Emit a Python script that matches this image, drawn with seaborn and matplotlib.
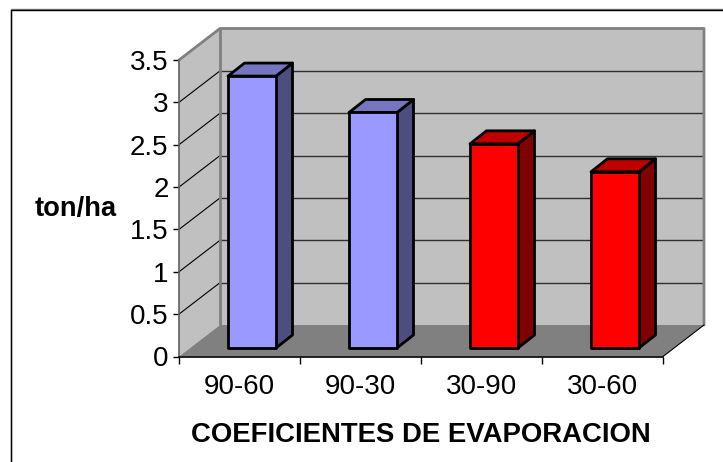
import matplotlib
matplotlib.use("Agg")
import matplotlib.pyplot as plt
from matplotlib.lines import Line2D
from matplotlib.patches import Polygon
import pandas as pd
import seaborn as sns

categories = ["90-60", "90-30", "30-90", "30-60"]
values = [3.21, 2.78, 2.41, 2.08]
y_ticks = [0, 0.5, 1, 1.5, 2, 2.5, 3, 3.5]
y_tick_labels = ["0", "0.5", "1", "1.5", "2", "2.5", "3", "3.5"]
front_colors = ["#9999FF", "#9999FF", "#FF0000", "#FF0000"]
top_colors = ["#7676C0", "#7676C0", "#C00000", "#C00000"]
side_colors = ["#4D4D80", "#4D4D80", "#800000", "#800000"]

W, H = 723, 462
sns.set_style("white")
plt.rcParams["font.family"] = ["Liberation Sans", "DejaVu Sans"]
plt.rcParams["text.color"] = "black"
plt.rcParams["axes.labelcolor"] = "black"
plt.rcParams["xtick.labelcolor"] = "black"
plt.rcParams["ytick.labelcolor"] = "black"

fig = plt.figure(figsize=(W / 100, H / 100), dpi=100)
ax = fig.add_axes([179 / W, 1 - 356.5 / H, 484 / W, 296.5 / H])
ax.patch.set_visible(False)

df = pd.DataFrame({"coef": categories, "ton": values})
sns.barplot(data=df, x="coef", y="ton", hue="coef", palette=front_colors,
            saturation=1, width=48 / 121, edgecolor="black", linewidth=2,
            legend=False, zorder=4, ax=ax)
ax.set_xlim(-0.5, 3.5)
ax.set_ylim(0, 3.5)

# pixel sizes to data units for the fake 3d depth
px_x = 1 / 121
px_y = 3.5 / 296.5
wall_dx, wall_dy = 41 * px_x, 31.5 * px_y
bar_dx, bar_dy = 16.5 * px_x, 13 * px_y
x0, x1 = -0.5, 3.5
top = 3.5


def poly(pts, color, z, edge="none", lw=0):
    ax.add_patch(Polygon(pts, closed=True, facecolor=color, edgecolor=edge,
                         linewidth=lw, zorder=z, clip_on=False, joinstyle="round"))


def seg(xs, ys, color, lw, z):
    ax.plot(xs, ys, color=color, lw=lw, zorder=z, clip_on=False,
            solid_capstyle="round")


# walls and floor
poly([(x0 + wall_dx, wall_dy), (x1 + wall_dx, wall_dy),
      (x1 + wall_dx, top + wall_dy), (x0 + wall_dx, top + wall_dy)], "#C0C0C0", 0)
poly([(x0, 0), (x0 + wall_dx, wall_dy), (x0 + wall_dx, top + wall_dy), (x0, top)],
     "#C0C0C0", 0)
poly([(x0, 0), (x1, 0), (x1 + wall_dx, wall_dy), (x0 + wall_dx, wall_dy)],
     "#808080", 1)

# gridlines on both walls
for t in y_ticks[1:-1]:
    seg([x0, x0 + wall_dx], [t, t + wall_dy], "black", 0.8, 1)
    seg([x0 + wall_dx, x1 + wall_dx], [t + wall_dy, t + wall_dy], "#303030", 1.0, 1)

# wall edges
seg([x0, x0 + wall_dx, x1 + wall_dx, x1 + wall_dx],
    [top, top + wall_dy, top + wall_dy, wall_dy], "#808080", 2, 2)
seg([x0 + wall_dx, x0 + wall_dx], [wall_dy, top + wall_dy], "#808080", 2, 2)
seg([x1, x1 + wall_dx], [0, wall_dy], "black", 0.8, 2)

# move the bars back onto the floor and add top and side faces
for i, bar in enumerate(ax.patches[:len(values)]):
    bar.set_x(bar.get_x() + 12.5 * px_x)
    bar.set_y(8.5 * px_y)
    bar.set_joinstyle("round")
    left = bar.get_x()
    right = left + bar.get_width()
    low = bar.get_y()
    high = low + bar.get_height()
    poly([(right, low), (right + bar_dx, low + bar_dy),
          (right + bar_dx, high + bar_dy), (right, high)],
         side_colors[i], 3, "black", 2)
    poly([(left, high), (right, high), (right + bar_dx, high + bar_dy),
          (left + bar_dx, high + bar_dy)], top_colors[i], 3, "black", 2)

# axes
sns.despine(ax=ax, top=True, right=True)
ax.spines["left"].set_color("#606060")
ax.spines["left"].set_linewidth(1.2)
ax.spines["bottom"].set_color("black")
ax.spines["bottom"].set_linewidth(1.2)
ax.spines["left"].set_zorder(2)
ax.spines["bottom"].set_zorder(2)

ax.set_yticks(y_ticks, y_tick_labels)
ax.set_xticks([x0, 0.5, 1.5, 2.5, x1], minor=True)
ax.tick_params(axis="y", length=4, width=1, color="black", labelsize=20,
               pad=3.5, left=True)
ax.tick_params(axis="x", which="major", length=0, labelsize=20, pad=12.5)
ax.tick_params(axis="x", which="minor", length=5, width=1, color="black", bottom=True)

ax.set_xlabel("COEFICIENTES DE EVAPORACION", fontsize=19.8, fontweight="bold",
              va="center")
ax.xaxis.set_label_coords(0.5, -(435.5 - 356.5) / 296.5)
ax.set_ylabel("ton/ha", fontsize=19.6, fontweight="bold", rotation=0,
              ha="center", va="center")
ax.yaxis.set_label_coords((76 - 179) / 484, 0.497)

# outer chart border, open on the right and at the bottom
for c, lw, off in [("#808080", 1, 1.0), ("black", 1, 0)]:
    fig.add_artist(Line2D([W / W, 10.5 / W, 10.5 / W],
                          [1 - (9.5 - off) / H, 1 - (9.5 - off) / H, 0],
                          color=c, lw=lw))

fig.savefig("out.png", dpi=100)
